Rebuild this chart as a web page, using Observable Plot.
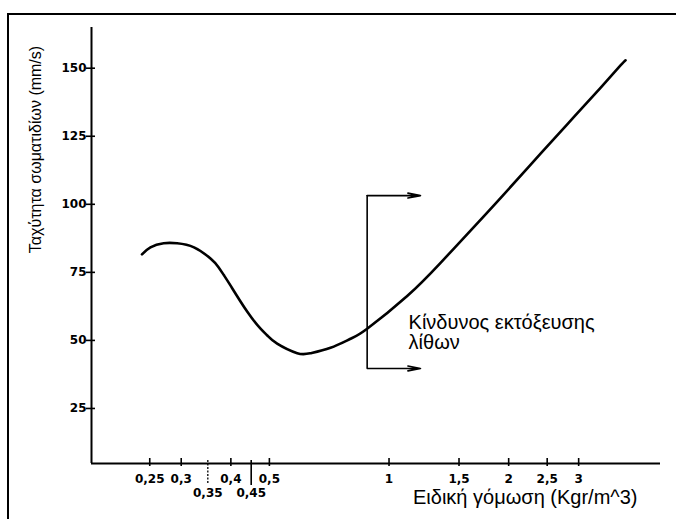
<!DOCTYPE html>
<html><head><meta charset="utf-8">
<script src="https://cdn.jsdelivr.net/npm/d3@7"></script>
<script src="https://cdn.jsdelivr.net/npm/@observablehq/plot@0.6"></script>
<style>
body{margin:0;background:#fff;}
#wrap{position:relative;width:676px;height:519px;overflow:hidden;background:#fff;}
#wrap svg{position:absolute;left:0;top:0;}
#border{position:absolute;left:7px;top:13px;width:800px;height:800px;border-top:2px solid #000;border-left:2px solid #000;pointer-events:none;}
</style></head><body><div id="wrap"><div id="border"></div></div>
<script>
// Specific charge (kg/m^3) and particle velocity (mm/s)
const chargeX = [0.239,0.251,0.271,0.293,0.323,0.356,0.372,0.384,0.399,0.440,0.475,0.494,0.523,0.5875,0.6346,0.7126,0.800,0.881,1.111,1.348,1.634,1.925,2.314,2.808,3.405,3.823,3.937];
const speedY  = [81.6,84.2,85.7,85.7,84.2,80.0,77.0,74.0,70.2,60.5,54.3,51.8,48.8,45.3,45.3,47.3,50.6,54.3,66.3,78.5,91.6,102.9,115.9,129.4,142.8,151.0,152.9];

const xTickValues = [0.25,0.3,0.35,0.4,0.45,0.5,1,1.5,2,2.5,3];
const xTickLabels = ["0,25","0,3","0,35","0,4","0,45","0,5","1","1,5","2","2,5","3"];
const xTickRow    = [0,0,1,0,1,0,0,0,0,0,0];
const yTickValues = [25,50,75,100,125,150];
const yTickLabels = ["25","50","75","100","125","150"];

// danger bracket: charge where it starts, velocity range, arrow tip
const dangerX = 0.881;
const dangerRange = [39.7,103.2];
const dangerArrowTo = 1.2;
const dangerText = "Κίνδυνος εκτόξευσης\nλίθων";
const dangerTextAt = {x:1.12, y:46.8};

const xTitle = "Ειδική γόμωση (Kgr/m^3)";
const yTitle = "Ταχύτητα σωματιδίων (mm/s)";

const xDomain = [0.1784,4.82];
const yDomain = [4.78,164.95];

const W = 676, H = 519, ML = 91, MR = 16, MT = 27, MB = 56;
const FW = W - ML - MR, FH = H - MT - MB;

const curve = chargeX.map((x,i)=>({x, y: speedY[i]}));
const ticks = xTickValues.map((v,i)=>({v, label: xTickLabels[i], row: xTickRow[i]}));
const yTicks = yTickValues.map((v,i)=>({v, label: yTickLabels[i]}));

const chart = Plot.plot({
  width:W, height:H,
  marginLeft:ML, marginRight:MR, marginTop:MT, marginBottom:MB,
  style:{background:"transparent", color:"#000", fontFamily:"DejaVu Sans"},
  x:{type:"log", domain:xDomain, axis:null},
  y:{domain:yDomain, axis:null},
  marks:[
    Plot.ruleX([xDomain[0]], {stroke:"#000", strokeWidth:2}),
    Plot.ruleY([yDomain[0]], {stroke:"#000", strokeWidth:2}),
    Plot.tickX(ticks.filter(d=>d.row===0), {x:"v", insetTop:FH-5, insetBottom:-3, stroke:"#000", strokeWidth:1.6}),
    Plot.tickX([xTickValues[2]], {x:d=>d, insetTop:FH-3, insetBottom:-21, stroke:"#000", strokeWidth:1.3, strokeDasharray:"2,1.5"}),
    Plot.tickX([xTickValues[4]], {x:d=>d, insetTop:FH-3, insetBottom:-22, stroke:"#000", strokeWidth:1.6}),
    Plot.text(ticks.filter(d=>d.row===0), {x:"v", text:"label", frameAnchor:"bottom", lineAnchor:"bottom", dy:19, fontSize:12, fontWeight:"bold", fill:"#000"}),
    Plot.text(ticks.filter(d=>d.row===1), {x:"v", text:"label", frameAnchor:"bottom", lineAnchor:"bottom", dy:33, fontSize:12, fontWeight:"bold", fill:"#000"}),
    Plot.tickY(yTicks, {y:"v", insetLeft:-5, insetRight:FW-4, stroke:"#000", strokeWidth:1.6}),
    Plot.text(yTicks, {y:"v", text:"label", frameAnchor:"left", textAnchor:"end", dx:-5, fontSize:12, fontWeight:"bold", fill:"#000"}),
    Plot.line(curve, {x:"x", y:"y", curve:"natural", stroke:"#000", strokeWidth:2.6}),
    Plot.ruleX([dangerX], {y1:dangerRange[0], y2:dangerRange[1], stroke:"#000", strokeWidth:1.6}),
    Plot.arrow(dangerRange, {x1:dangerX, x2:dangerArrowTo, y1:d=>d, y2:d=>d, headAngle:22, headLength:12, stroke:"#000", strokeWidth:1.6}),
    Plot.text([dangerText], {x:dangerTextAt.x, y:dangerTextAt.y, text:d=>d, textAnchor:"start", lineAnchor:"bottom", fontSize:20, lineHeight:1.0, fontFamily:"Liberation Sans", fill:"#000"}),
    Plot.text([xTitle], {frameAnchor:"bottom-right", textAnchor:"end", lineAnchor:"bottom", dx:-23, dy:40, fontSize:20, fontFamily:"Liberation Sans", fill:"#000"}),
    Plot.text([yTitle], {frameAnchor:"left", rotate:-90, textAnchor:"middle", lineAnchor:"bottom", dx:-51, dy:-96, fontSize:16, fontFamily:"Liberation Sans", fill:"#000"})
  ]
});
document.getElementById("wrap").prepend(chart);
</script></body></html>
